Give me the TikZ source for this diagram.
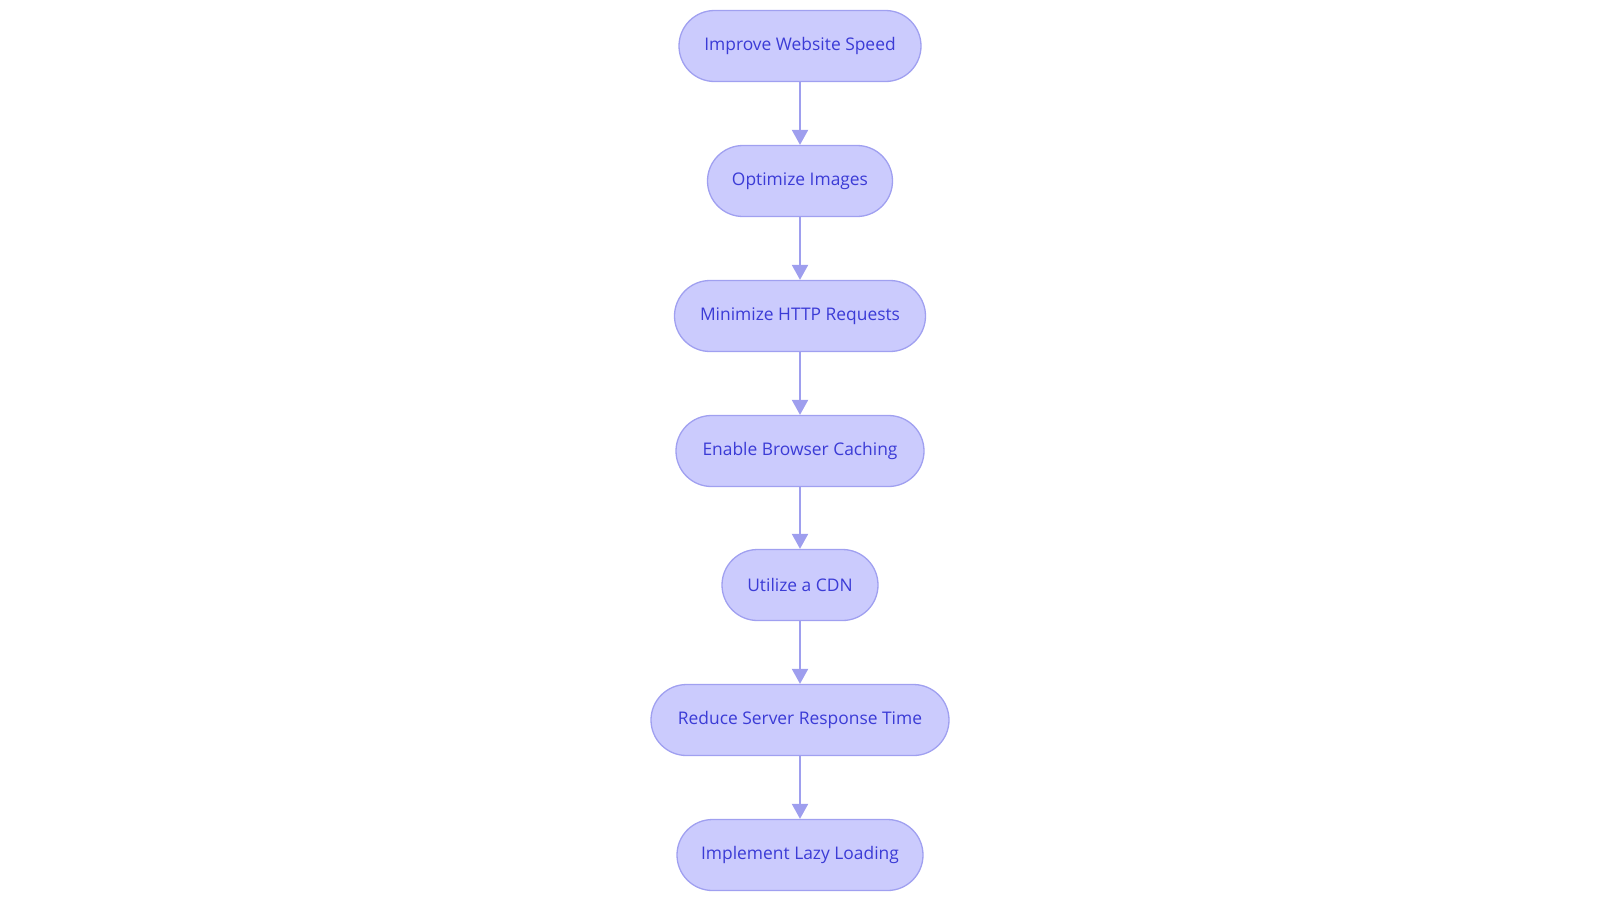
\documentclass[tikz,border=0pt]{standalone}
\usepackage{fontspec}
\setmainfont{Open Sans}
\usetikzlibrary{arrows.meta}
\definecolor{boxfill}{HTML}{CBCBFD}
\definecolor{boxline}{HTML}{A0A0F0}
\definecolor{boxtext}{HTML}{3B3BD6}
\definecolor{linkcol}{HTML}{9E9EEE}
\tikzset{
  stepbox/.style={draw=boxline, fill=boxfill, line width=1.3pt, rounded corners=35.5pt,
    minimum height=71pt, inner sep=0pt, text=boxtext, font=\fontsize{17.4}{21}\selectfont},
  link/.style={draw=linkcol, line width=2.2pt, -{Triangle[length=15pt,width=16pt]}}
}
\begin{document}
\begin{tikzpicture}[x=1pt,y=1pt]
\useasboundingbox (0,0) rectangle (1600,-903);
\node[stepbox, minimum width=242pt] (a) at (800,-46) {Improve Website Speed};
\node[stepbox, minimum width=185pt] (b) at (800,-181) {Optimize Images};
\node[stepbox, minimum width=251pt] (c) at (800,-316) {Minimize HTTP Requests};
\node[stepbox, minimum width=248pt] (d) at (800,-451) {Enable Browser Caching};
\node[stepbox, minimum width=156pt] (e) at (800,-585) {Utilize a CDN};
\node[stepbox, minimum width=298pt] (f) at (800,-720) {Reduce Server Response Time};
\node[stepbox, minimum width=246pt] (g) at (800,-855) {Implement Lazy Loading};
\draw[link] (a) -- (b);
\draw[link] (b) -- (c);
\draw[link] (c) -- (d);
\draw[link] (d) -- (e);
\draw[link] (e) -- (f);
\draw[link] (f) -- (g);
\end{tikzpicture}
\end{document}
